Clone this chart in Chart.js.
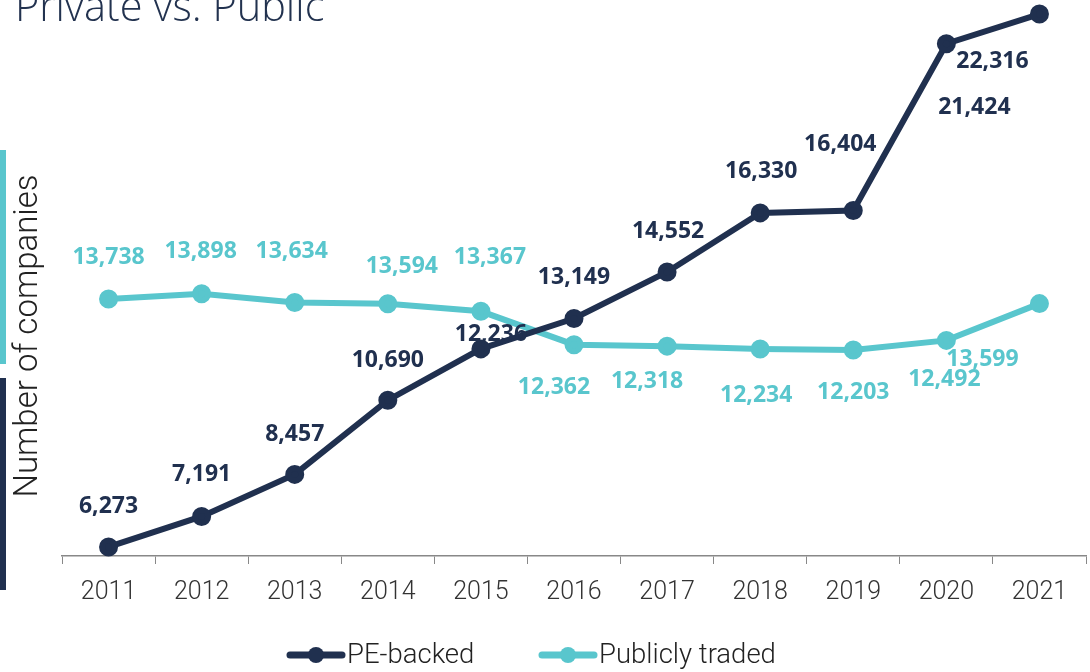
<!DOCTYPE html>
<html>
<head>
<meta charset="utf-8">
<script src="https://cdn.jsdelivr.net/npm/chart.js@4.4.1/dist/chart.umd.min.js"></script>
<style>
  html, body { margin: 0; padding: 0; background: #fff; overflow: hidden; }
  #wrap { position: relative; width: 1090px; height: 672px; }
</style>
</head>
<body>
<div id="wrap"><canvas id="companies-chart"></canvas></div>
<script>
const years = ['2011', '2012', '2013', '2014', '2015', '2016', '2017', '2018', '2019', '2020', '2021'];
const peBacked = [6273, 7191, 8457, 10690, 12236, 13149, 14552, 16330, 16404, 21424, 22316];
const publiclyTraded = [13738, 13898, 13634, 13594, 13367, 12362, 12318, 12234, 12203, 12492, 13599];

const NAVY = '#20304f';
const TEAL = '#59c6cd';

// where each value label sits, relative to its point (px)
const peLabelShift = [[0,-40],[0,-42],[0,-40],[0,-40],[10,-14],[0,-41],[1,-41],[1,-41],[-13,-66],[28,64],[-47,47]];
const pubLabelShift = [[0,-42],[-1,-42],[-3,-51],[14,-37],[9,-54],[-20,43],[-20,35],[-4,47],[0,42],[-2,39],[-57,56]];

const fmt = (v) => v.toLocaleString('en-US');

const valueLabels = {
  id: 'valueLabels',
  afterDatasetsDraw(chart) {
    const ctx = chart.ctx;
    ctx.save();
    ctx.font = "700 23px 'Noto Sans'";
    ctx.textAlign = 'center';
    ctx.textBaseline = 'middle';
    chart.data.datasets.forEach((ds, i) => {
      const shifts = i === 0 ? peLabelShift : pubLabelShift;
      ctx.fillStyle = ds.borderColor;
      chart.getDatasetMeta(i).data.forEach((pt, j) => {
        ctx.fillText(fmt(ds.data[j]), pt.x + shifts[j][0], pt.y + shifts[j][1]);
      });
    });
    ctx.restore();
  }
};

const decor = {
  id: 'decor',
  afterDraw(chart) {
    const ctx = chart.ctx;
    ctx.save();
    // title, cut off at the top like the source
    ctx.fillStyle = '#22324f';
    ctx.font = "300 41.5px 'Open Sans'";
    ctx.textBaseline = 'alphabetic';
    ctx.fillText('Private vs. Public', 15, 21);

    // side bars
    ctx.fillStyle = TEAL;
    ctx.fillRect(0, 150, 6, 214);
    ctx.fillStyle = NAVY;
    ctx.fillRect(0, 378, 6, 212);

    // y axis title
    ctx.fillStyle = '#222';
    ctx.font = "300 33px Roboto";
    ctx.translate(37, 336);
    ctx.rotate(-Math.PI / 2);
    ctx.textAlign = 'center';
    ctx.fillText('Number of companies', 0, 0);
    ctx.restore();

    // legend
    const items = [
      { label: 'PE-backed', color: NAVY, x: 287 },
      { label: 'Publicly traded', color: TEAL, x: 539 }
    ];
    ctx.save();
    ctx.font = "300 27.5px Roboto";
    ctx.textBaseline = 'middle';
    items.forEach((it) => {
      const y = 655;
      ctx.strokeStyle = it.color;
      ctx.fillStyle = it.color;
      ctx.lineWidth = 7;
      ctx.lineCap = 'round';
      ctx.beginPath();
      ctx.moveTo(it.x + 3, y);
      ctx.lineTo(it.x + 55, y);
      ctx.stroke();
      ctx.beginPath();
      ctx.arc(it.x + 29, y, 8, 0, Math.PI * 2);
      ctx.fill();
      ctx.fillStyle = '#222';
      ctx.fillText(it.label, it.x + 60, y + 1);
    });
    ctx.restore();
  }
};

const ctx = document.getElementById('companies-chart');
const myChart = new Chart(ctx, {
  type: 'line',
  data: {
    labels: years,
    datasets: [
      {
        label: 'PE-backed',
        data: peBacked,
        borderColor: NAVY,
        backgroundColor: NAVY,
        borderWidth: 6,
        pointRadius: 6.5,
        pointHoverRadius: 6.5,
        fill: false,
        tension: 0,
        clip: false
      },
      {
        label: 'Publicly traded',
        data: publiclyTraded,
        borderColor: TEAL,
        backgroundColor: TEAL,
        borderWidth: 6,
        pointRadius: 6.5,
        pointHoverRadius: 6.5,
        fill: false,
        tension: 0,
        clip: false
      }
    ]
  },
  options: {
    responsive: true,
    maintainAspectRatio: false,
    animation: false,
    layout: { autoPadding: false, padding: { left: 62, right: 4, top: 0, bottom: 0 } },
    plugins: {
      legend: { display: false },
      tooltip: { enabled: false }
    },
    scales: {
      x: {
        offset: true,
        grid: {
          display: true,
          offset: true,
          drawOnChartArea: false,
          drawTicks: true,
          tickLength: 8,
          color: '#888'
        },
        border: { color: '#888', width: 1.5 },
        ticks: {
          color: '#333',
          font: { family: 'Roboto', weight: '300', size: 25 },
          padding: 14
        },
        afterFit: (scale) => { scale.height = 116; }
      },
      y: {
        display: false,
        min: 6000,
        max: 22740
      }
    }
  },
  plugins: [valueLabels, decor]
});
</script>
</body>
</html>
